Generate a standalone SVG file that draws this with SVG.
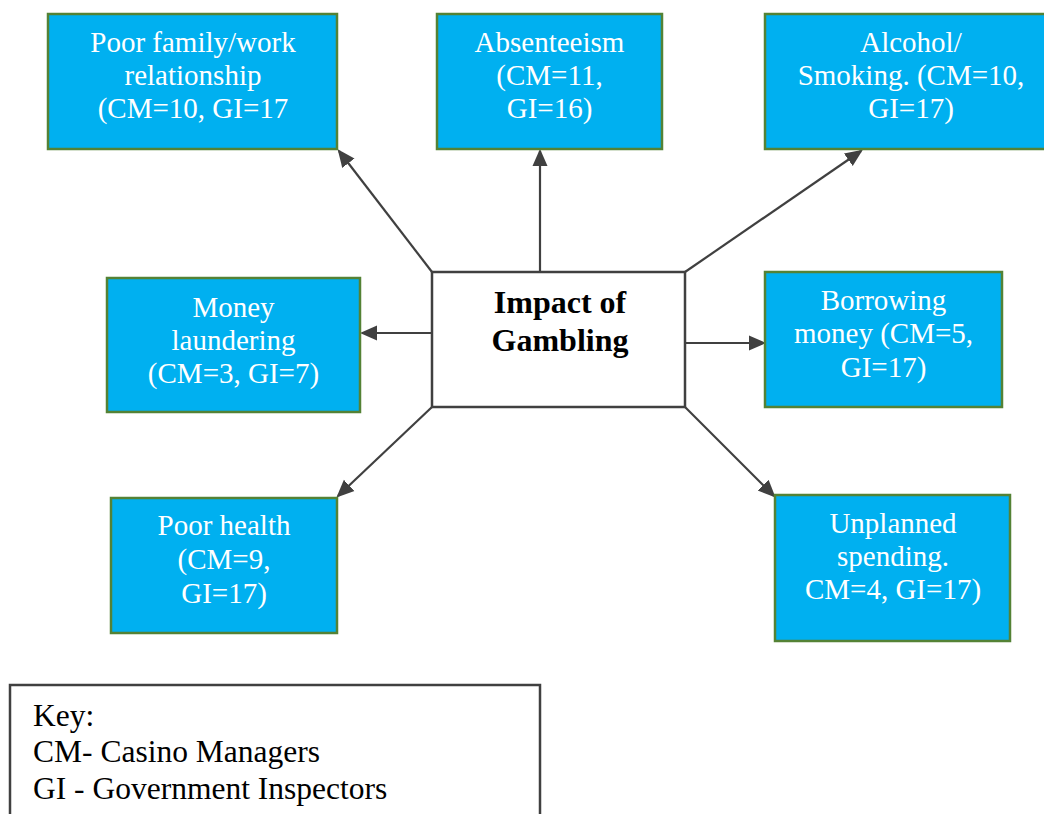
<svg xmlns="http://www.w3.org/2000/svg" width="1044" height="814" viewBox="0 0 1044 814">
<style>
.box{fill:#00B0F0;stroke:#548235;stroke-width:2.5}
.t{font-family:"Liberation Serif","Times New Roman",serif;font-size:29px;fill:#ffffff;text-anchor:middle}
.c{fill:#ffffff;stroke:#404040;stroke-width:2.5}
.ct{font-family:"Liberation Serif","Times New Roman",serif;font-size:32px;font-weight:bold;fill:#000;text-anchor:middle}
.k{font-family:"Liberation Serif","Times New Roman",serif;font-size:31.5px;fill:#000}
.e{stroke:#404040;stroke-width:2.2;fill:none;marker-end:url(#ah)}
</style>
<defs>
<marker id="ah" markerWidth="8" markerHeight="8" refX="7" refY="4" orient="auto" markerUnits="strokeWidth"><path d="M0,0.5 L8,4 L0,7.5 z" fill="#404040"/></marker>
</defs>
<rect width="1044" height="814" fill="#ffffff"/>
<g id="connectors">
<line class="e" x1="432" y1="272" x2="339" y2="151"/>
<line class="e" x1="540" y1="272" x2="540" y2="151"/>
<line class="e" x1="685" y1="272" x2="861" y2="151"/>
<line class="e" x1="432" y1="333" x2="362" y2="333"/>
<line class="e" x1="682" y1="343" x2="764" y2="343"/>
<line class="e" x1="432" y1="407" x2="338" y2="496"/>
<line class="e" x1="685" y1="407" x2="774" y2="496"/>
</g>
<g id="center">
<rect class="c" x="432" y="272" width="253" height="135"/>
<text class="ct" x="560" y="313">Impact of</text>
<text class="ct" x="560" y="351">Gambling</text>
</g>
<g id="poor-family">
<rect class="box" x="48" y="14" width="289" height="135"/>
<text class="t" x="193" y="52">Poor family/work</text>
<text class="t" x="193" y="85">relationship</text>
<text class="t" x="193" y="118">(CM=10, GI=17</text>
</g>
<g id="absenteeism">
<rect class="box" x="437" y="14" width="225" height="135"/>
<text class="t" x="549.5" y="52">Absenteeism</text>
<text class="t" x="549.5" y="85">(CM=11,</text>
<text class="t" x="549.5" y="118">GI=16)</text>
</g>
<g id="alcohol">
<rect class="box" x="765" y="14" width="292" height="135"/>
<text class="t" x="911" y="52">Alcohol/</text>
<text class="t" x="911" y="85">Smoking. (CM=10,</text>
<text class="t" x="911" y="118">GI=17)</text>
</g>
<g id="money-laundering">
<rect class="box" x="107" y="278" width="253" height="134"/>
<text class="t" x="233.5" y="317">Money</text>
<text class="t" x="233.5" y="350">laundering</text>
<text class="t" x="233.5" y="383">(CM=3, GI=7)</text>
</g>
<g id="borrowing">
<rect class="box" x="765" y="272" width="237" height="135"/>
<text class="t" x="883.5" y="310">Borrowing</text>
<text class="t" x="883.5" y="343">money (CM=5,</text>
<text class="t" x="883.5" y="377">GI=17)</text>
</g>
<g id="poor-health">
<rect class="box" x="111" y="498" width="226" height="135"/>
<text class="t" x="224" y="535">Poor health</text>
<text class="t" x="224" y="569">(CM=9,</text>
<text class="t" x="224" y="603">GI=17)</text>
</g>
<g id="unplanned">
<rect class="box" x="775" y="495" width="235" height="146"/>
<text class="t" x="893" y="533">Unplanned</text>
<text class="t" x="893" y="566">spending.</text>
<text class="t" x="893" y="599">CM=4, GI=17)</text>
</g>
<g id="key">
<rect x="10" y="685" width="530" height="140" fill="#ffffff" stroke="#404040" stroke-width="2.5"/>
<text class="k" x="33" y="726">Key:</text>
<text class="k" x="33" y="762">CM- Casino Managers</text>
<text class="k" x="33" y="799">GI - Government Inspectors</text>
</g>
</svg>
